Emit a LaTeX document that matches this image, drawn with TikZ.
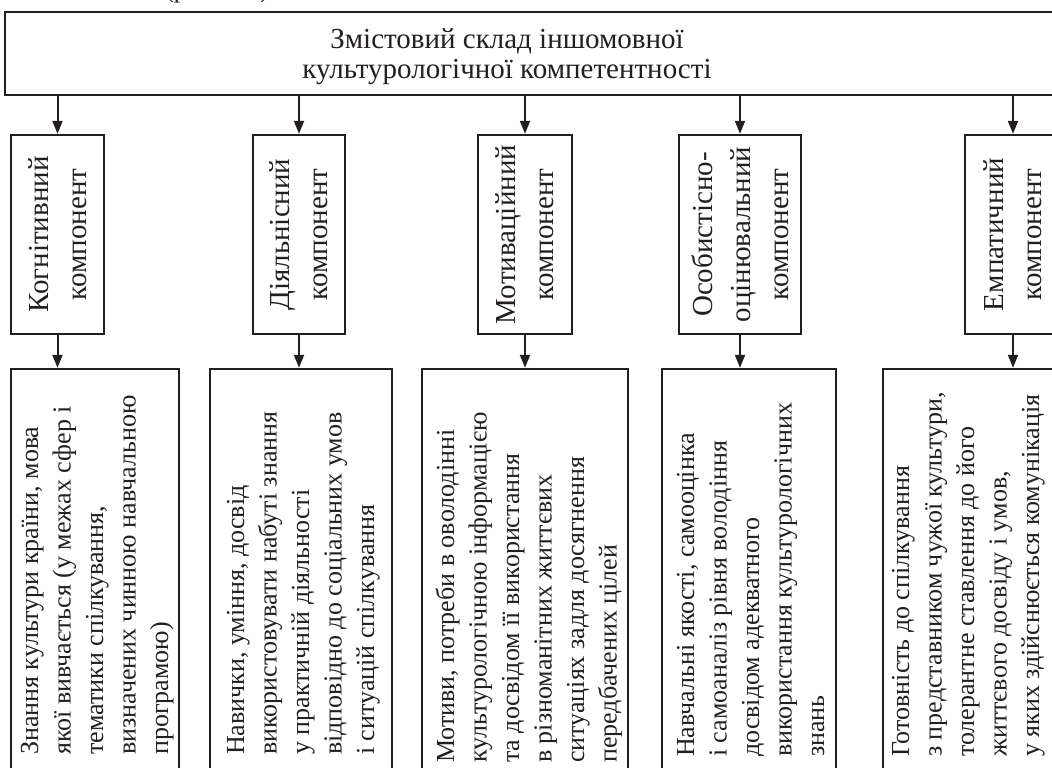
\documentclass[tikz,border=0pt]{standalone}
\usepackage{fontspec}
\setmainfont{Liberation Serif}
\usetikzlibrary{arrows.meta}
\definecolor{ink}{RGB}{35,31,32}
\begin{document}
\begin{tikzpicture}[x=1pt,y=-1pt,
  box/.style={draw=ink, line width=2.4pt, rectangle, inner sep=0pt},
  arr/.style={draw=ink, line width=2pt, -{Triangle[length=13pt,width=10pt]}},
  lbl/.style={text=ink, font=\fontsize{29}{38}\selectfont, align=center, rotate=90, inner sep=0pt},
  body/.style={text=ink, font=\fontsize{26}{32.5}\selectfont, align=left, rotate=90, anchor=north west, inner sep=0pt},
  ttl/.style={text=ink, font=\fontsize{29}{30}\selectfont, align=center, inner sep=0pt},
]
\useasboundingbox (0,0) rectangle (1052,768);

% fragment of the caption above, cut by the page edge as in the reference
\node[text=ink, font=\fontsize{26}{30}\selectfont, anchor=base, inner sep=0pt] (frag) at (217,-2) {(рис. 1.1)};

% top box
\node[box, minimum width=1065pt, minimum height=83pt] (top) at (537.5,53.5) {};
\node[ttl] (title) at (507,57) {Змістовий склад іншомовної\\культурологічної компетентності};

% component boxes
\node[box, minimum width=93pt,  minimum height=199pt] (c1) at (57.5,234.5) {};
\node[box, minimum width=92pt,  minimum height=199pt] (c2) at (299,234.5) {};
\node[box, minimum width=94pt,  minimum height=199pt] (c3) at (525,234.5) {};
\node[box, minimum width=122pt, minimum height=199pt] (c4) at (740,234.5) {};
\node[box, minimum width=96pt,  minimum height=199pt] (c5) at (1013,234.5) {};

\node[lbl] (t1) at (c1.center) {Когнітивний\\компонент};
\node[lbl] (t2) at (c2.center) {Діяльнісний\\компонент};
\node[lbl] (t3) at (c3.center) {Мотиваційний\\компонент};
\node[lbl] (t4) at (c4.center) {Особистісно-\\оцінювальний\\компонент};
\node[lbl] (t5) at (c5.center) {Емпатичний\\компонент};

% lower boxes
\node[box, minimum width=168pt, minimum height=431pt] (l1) at (95,584.5) {};
\node[box, minimum width=182pt, minimum height=431pt] (l2) at (301,584.5) {};
\node[box, minimum width=206pt, minimum height=431pt] (l3) at (525,584.5) {};
\node[box, minimum width=174pt, minimum height=431pt] (l4) at (749,584.5) {};
\node[box, minimum width=237pt, minimum height=431pt] (l5) at (1001.5,584.5) {};

\node[body] (b1) at (18,755) {\rule{0pt}{20pt}Знання культури країни, мова\\якої вивчається (у межах сфер і\\тематики спілкування,\\визначених чинною навчальною\\програмою)};
\node[body] (b2) at (224,755) {\rule{0pt}{20pt}Навички, уміння, досвід\\використовувати набуті знання\\у практичній діяльності\\відповідно до соціальних умов\\і ситуацій спілкування};
\node[body] (b3) at (434,763) {\rule{0pt}{20pt}Мотиви, потреби в оволодінні\\культурологічною інформацією\\та досвідом її використання\\в різноманітних життєвих\\ситуаціях задля досягнення\\передбачених цілей};
\node[body] (b4) at (674,757) {\rule{0pt}{20pt}Навчальні якості, самооцінка\\і самоаналіз рівня володіння\\досвідом адекватного\\використання культурологічних\\знань};
\node[body] (b5) at (889,757) {\rule{0pt}{20pt}Готовність до спілкування\\з представником чужої культури,\\толерантне ставлення до його\\життєвого досвіду і умов,\\у яких здійснюється комунікація};

% connectors
\foreach \i in {1,...,5}{
  \draw[arr] (top.south -| c\i.north) -- (c\i.north);
  \draw[arr] (c\i.south) -- (c\i.south |- l\i.north);
}
\end{tikzpicture}
\end{document}
